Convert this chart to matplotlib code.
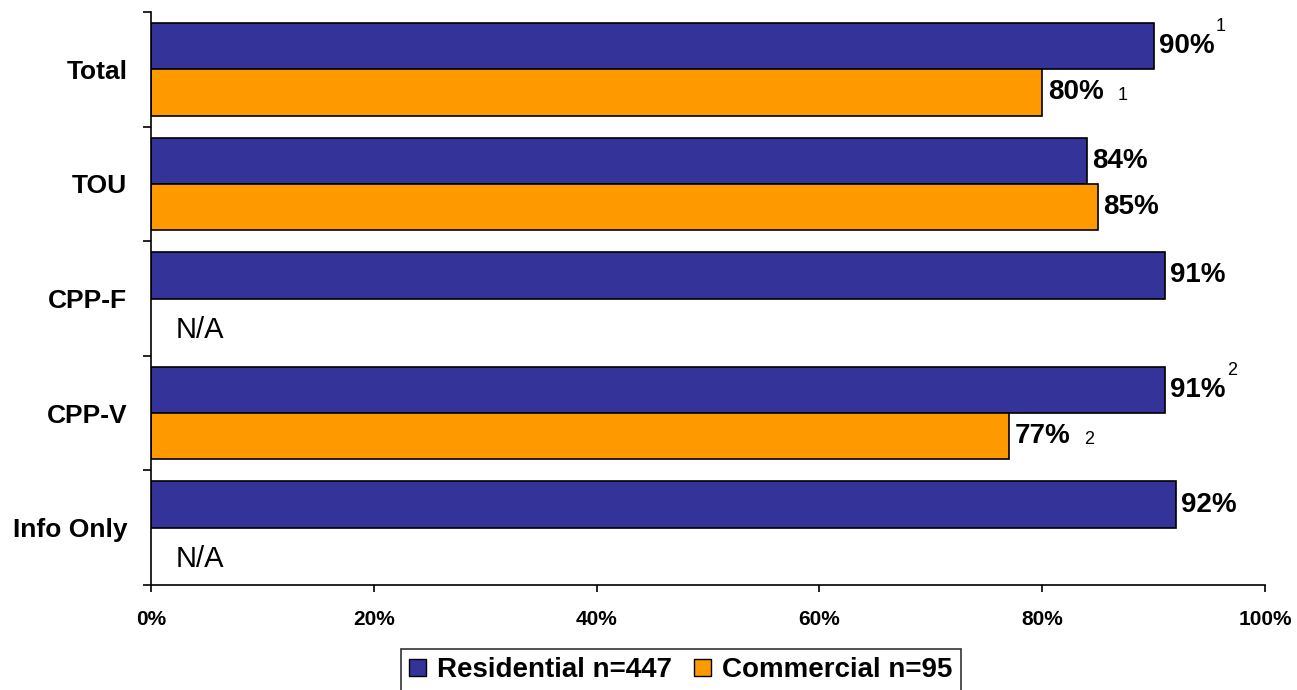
import matplotlib
matplotlib.use("Agg")
import matplotlib.pyplot as plt
from matplotlib.patches import Patch
import numpy as np

plt.rcParams['font.family'] = ['Liberation Sans', 'DejaVu Sans']

categories = ["Total", "TOU", "CPP-F", "CPP-V", "Info Only"]
residential = [90, 84, 91, 91, 92]
commercial = [80, 85, None, 77, None]
res_notes = ["1", "", "", "2", ""]
com_notes = ["1", "", "", "2", ""]
x_ticks = [0, 20, 40, 60, 80, 100]
x_tick_labels = ["0%", "20%", "40%", "60%", "80%", "100%"]
legend_labels = ["Residential n=447", "Commercial n=95"]

blue = "#333399"
orange = "#FF9900"

fig = plt.figure(figsize=(12.97, 6.90), dpi=100)
ax = fig.add_axes([151 / 1297, 1 - 585 / 690, (1265 - 151) / 1297, (585 - 12) / 690])

h = 0.404
y = np.arange(len(categories))

for i, v in enumerate(residential):
    ax.barh(y[i] - h / 2, v, height=h, color=blue, edgecolor="black", linewidth=1.2)
    ax.annotate(f"{v}%", (v, y[i] - h / 2), xytext=(4, 0), textcoords="offset points",
                ha="left", va="center", fontsize=20, fontweight="bold")
    if res_notes[i]:
        ax.annotate(res_notes[i], (v, y[i] - h / 2), xytext=(45, 14), textcoords="offset points",
                    ha="left", va="center", fontsize=13)

for i, v in enumerate(commercial):
    if v is None:
        ax.text(2.2, y[i] + h / 2 + 0.07, "N/A", ha="left", va="center", fontsize=21)
        continue
    ax.barh(y[i] + h / 2, v, height=h, color=orange, edgecolor="black", linewidth=1.2)
    ax.annotate(f"{v}%", (v, y[i] + h / 2), xytext=(4, 0), textcoords="offset points",
                ha="left", va="center", fontsize=20, fontweight="bold")
    if com_notes[i]:
        ax.annotate(com_notes[i], (v, y[i] + h / 2), xytext=(54, -2), textcoords="offset points",
                    ha="left", va="center", fontsize=13)

ax.set_xlim(0, 100)
ax.set_ylim(len(categories) - 0.5, -0.5)
ax.set_xticks(x_ticks)
ax.set_xticklabels(x_tick_labels, fontsize=15, fontweight="bold")
ax.set_yticks(y)
ax.set_yticklabels(categories, fontsize=19, fontweight="bold")
ax.set_yticks(np.arange(-0.5, len(categories)), minor=True)
ax.tick_params(axis="y", which="major", length=0, pad=17)
ax.tick_params(axis="y", which="minor", length=6, width=1.2, direction="out")
ax.tick_params(axis="x", which="major", length=5, width=1.2, direction="out", pad=13)

for side in ["top", "right"]:
    ax.spines[side].set_visible(False)
for side in ["left", "bottom"]:
    ax.spines[side].set_linewidth(1.2)

handles = [Patch(facecolor=blue, edgecolor="black"), Patch(facecolor=orange, edgecolor="black")]
leg = fig.legend(handles, legend_labels, loc="upper center", bbox_to_anchor=(681 / 1297, 1 - 649 / 690),
                 ncol=2, frameon=True, fancybox=False, edgecolor="black",
                 prop={"weight": "bold", "size": 20}, handlelength=0.6, handleheight=0.6,
                 handletextpad=0.4, columnspacing=0.8, borderpad=0.3, borderaxespad=0)
leg.get_frame().set_linewidth(1.2)

fig.savefig("out.png", dpi=100)
